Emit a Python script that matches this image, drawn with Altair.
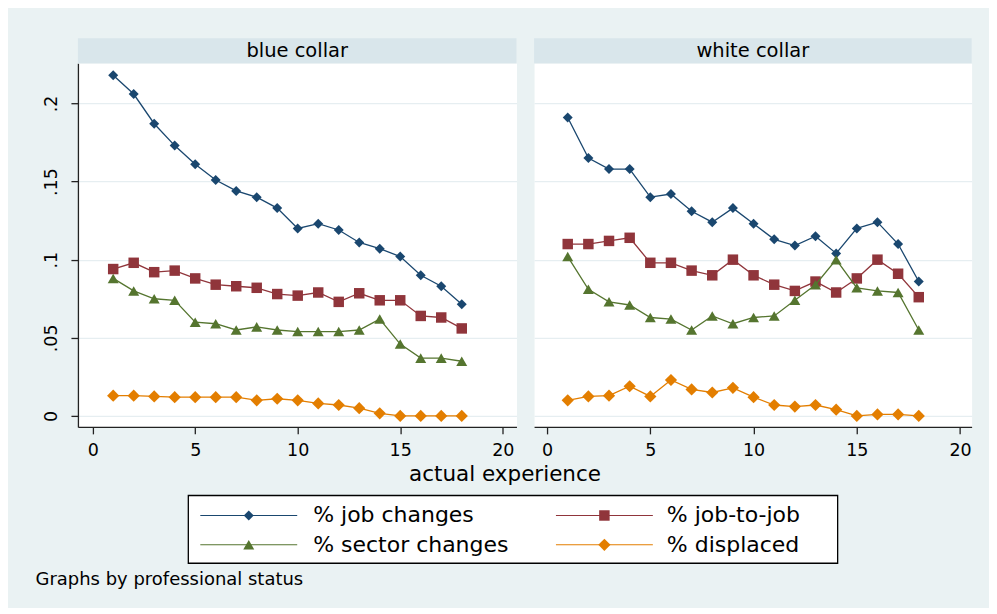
import altair as alt
import pandas as pd

# ---------------- data ----------------
EXPERIENCE = [1, 2, 3, 4, 5, 6, 7, 8, 9, 10, 11, 12, 13, 14, 15, 16, 17, 18]
SERIES = ["% job changes", "% job-to-job", "% sector changes", "% displaced"]
PANELS = ["blue collar", "white collar"]

BLUE_JOB = [0.218, 0.206, 0.187, 0.173, 0.161, 0.151, 0.144, 0.140, 0.133, 0.120,
            0.123, 0.119, 0.111, 0.107, 0.102, 0.090, 0.083, 0.0715]
BLUE_J2J = [0.094, 0.098, 0.092, 0.093, 0.088, 0.084, 0.083, 0.082, 0.078, 0.077,
            0.079, 0.073, 0.0785, 0.074, 0.074, 0.064, 0.063, 0.056]
BLUE_SECTOR = [0.088, 0.080, 0.075, 0.074, 0.060, 0.059, 0.055, 0.057, 0.055, 0.054,
               0.054, 0.054, 0.055, 0.062, 0.046, 0.037, 0.037, 0.035]
BLUE_DISPL = [0.013, 0.013, 0.0125, 0.012, 0.012, 0.012, 0.012, 0.010, 0.011, 0.010,
              0.008, 0.007, 0.005, 0.0017, 0.0, 0.0, 0.0, 0.0]

WHITE_JOB = [0.191, 0.165, 0.158, 0.158, 0.140, 0.142, 0.131, 0.124, 0.133, 0.123,
             0.113, 0.109, 0.115, 0.104, 0.120, 0.124, 0.110, 0.086]
WHITE_J2J = [0.110, 0.110, 0.112, 0.114, 0.098, 0.098, 0.093, 0.090, 0.100, 0.090,
             0.084, 0.080, 0.086, 0.079, 0.088, 0.100, 0.091, 0.076]
WHITE_SECTOR = [0.102, 0.081, 0.073, 0.071, 0.063, 0.062, 0.055, 0.064, 0.059, 0.063,
                0.064, 0.074, 0.084, 0.100, 0.082, 0.080, 0.079, 0.055]
WHITE_DISPL = [0.010, 0.0125, 0.013, 0.019, 0.0125, 0.023, 0.017, 0.015, 0.018, 0.012,
               0.007, 0.006, 0.007, 0.004, 0.0, 0.001, 0.001, 0.0]

Y_TICKS = [0, 0.05, 0.1, 0.15, 0.2]
X_TICKS = [0, 5, 10, 15, 20]
X_TITLE = "actual experience"
NOTE = "Graphs by professional status"

# ---------------- styles ----------------
COLORS = ["#1A476F", "#90353B", "#55752F", "#E37E00"]
SHAPES = ["diamond", "square", "triangle-up", "diamond"]
SIZES = [100, 110, 121, 150]
BG = "#EAF2F3"
STRIP = "#D9E6EB"
GRID = "#E6EEF1"
AX = "#222222"
FONT = "DejaVu Sans"

rows = []
for panel, lists in zip(PANELS, [[BLUE_JOB, BLUE_J2J, BLUE_SECTOR, BLUE_DISPL],
                                 [WHITE_JOB, WHITE_J2J, WHITE_SECTOR, WHITE_DISPL]]):
    for s, vals in zip(SERIES, lists):
        for e, v in zip(EXPERIENCE, vals):
            rows.append({"panel": panel, "series": s, "exp": e, "value": v})
df = pd.DataFrame(rows)
one = pd.DataFrame({"k": [0]})

Y_DOMAIN = [-0.0070, 0.2257]
PH = 364


def make_panel(name, width, xdom, left):
    d = df[df["panel"] == name]
    xenc = alt.X("exp:Q", scale=alt.Scale(domain=xdom, nice=False, zero=False),
                 axis=alt.Axis(values=X_TICKS, title=None, grid=False,
                               domainColor=AX, domainWidth=1.3, tickColor=AX,
                               tickWidth=1.3, tickSize=7, labelPadding=8,
                               labelFlush=False, labelFontSize=17.5,
                               labelColor="#000", labelFont=FONT))
    if left:
        yaxis = alt.Axis(values=Y_TICKS, title=None, grid=True, gridColor=GRID,
                         gridWidth=1.3, domainColor=AX, domainWidth=1.3,
                         tickColor=AX, tickWidth=1.3, tickSize=7, labelAngle=270,
                         labelAlign="center", labelBaseline="middle",
                         labelPadding=19, labelFontSize=17.5, labelColor="#000",
                         labelFont=FONT, labelFlush=False,
                         labelExpr="datum.value == 0 ? '0' : substring(format(datum.value, '.2~f'), 1)")
    else:
        yaxis = alt.Axis(values=Y_TICKS, title=None, grid=True, gridColor=GRID,
                         gridWidth=1.3, domain=False, ticks=False, labels=False)
    yenc = alt.Y("value:Q", scale=alt.Scale(domain=Y_DOMAIN, nice=False, zero=False),
                 axis=yaxis)

    layers = []
    if left:
        # invisible frame that fixes the size of the whole picture
        layers.append(alt.Chart(one).mark_rect(opacity=0).encode(
            x=alt.value(-69.5), x2=alt.value(911.5),
            y=alt.value(-54.3), y2=alt.value(543.7)))
    # panel header strip
    layers.append(alt.Chart(one).mark_rect(color=STRIP).encode(
        x=alt.value(0), x2=alt.value(width), y=alt.value(-25), y2=alt.value(0)))
    layers.append(alt.Chart(one).mark_text(text=name, fontSize=19.5, color="#000",
                                           font=FONT, baseline="middle",
                                           align="center").encode(
        x=alt.value(width / 2), y=alt.value(-12.5)))

    for s, c, sh, sz in zip(SERIES, COLORS, SHAPES, SIZES):
        sd = d[d["series"] == s]
        layers.append(alt.Chart(sd).mark_line(color=c, strokeWidth=1.3).encode(x=xenc, y=yenc))
        layers.append(alt.Chart(sd).mark_point(filled=True, shape=sh, size=sz, color=c,
                                               opacity=1).encode(x=xenc, y=yenc))

    if left:
        # x axis title shared by both panels
        layers.append(alt.Chart(one).mark_text(text=X_TITLE, fontSize=21.5, color="#000",
                                               font=FONT, align="center",
                                               baseline="middle").encode(
            x=alt.value(427.5), y=alt.value(411.7)))
        # legend box
        layers.append(alt.Chart(one).mark_rect(fill="white", stroke="#000",
                                               strokeWidth=1.3).encode(
            x=alt.value(110.5), x2=alt.value(760.5),
            y=alt.value(432.7), y2=alt.value(500.5)))
        col_line = [122.5, 478.5]
        col_text = [235.5, 589.5]
        row_y = [452.7, 482.0]
        for i, (s, c, sh, sz) in enumerate(zip(SERIES, COLORS, SHAPES, SIZES)):
            cx = col_line[i % 2]
            ty = row_y[i // 2]
            layers.append(alt.Chart(one).mark_rule(color=c, strokeWidth=1.2).encode(
                x=alt.value(cx), x2=alt.value(cx + 97), y=alt.value(ty)))
            layers.append(alt.Chart(one).mark_point(filled=True, shape=sh, size=sz,
                                                    color=c, opacity=1).encode(
                x=alt.value(cx + 48.5), y=alt.value(ty)))
            layers.append(alt.Chart(one).mark_text(text=s, fontSize=22, color="#000",
                                                   font=FONT, align="left",
                                                   baseline="middle").encode(
                x=alt.value(col_text[i % 2]), y=alt.value(ty)))
        # note
        layers.append(alt.Chart(one).mark_text(text=NOTE, fontSize=18, color="#000",
                                               font=FONT, align="left",
                                               baseline="middle").encode(
            x=alt.value(-42.5), y=alt.value(517.7)))

    return alt.layer(*layers).properties(width=width, height=PH)


left = make_panel(PANELS[0], 439, [-0.72, 20.67], True)
right = make_panel(PANELS[1], 438, [-0.63, 20.56], False)

chart = alt.hconcat(left, right, spacing=17.6, bounds="flush").properties(
    padding=0, background=BG
).configure(font=FONT).configure_view(stroke="transparent", fill="white")

chart.save("out.html", embed_options={"renderer": "svg", "actions": False})
